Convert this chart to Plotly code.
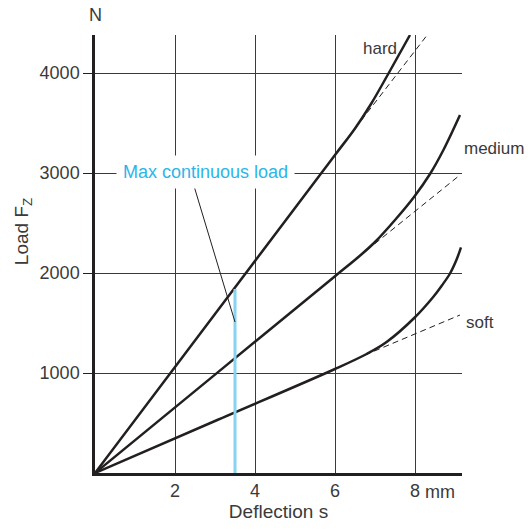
import plotly.graph_objects as go

# ---- data ----
hard_x = [0, 3, 6, 6.5, 6.9, 7.33, 7.875]
hard_y = [0, 1590, 3180, 3445, 3690, 3990, 4380]
hard_lin_x = [6.5, 8.325]
hard_lin_y = [3445, 4390]

medium_x = [0, 3, 6, 6.6, 7.0, 7.5, 7.98, 8.375, 8.71, 9.125]
medium_y = [0, 984, 1968, 2165, 2310, 2530, 2763, 2990, 3230, 3580]
medium_lin_x = [6.8, 9.125]
medium_lin_y = [2230, 2980]

soft_x = [0, 3, 6, 6.79, 7.29, 7.98, 8.46, 8.67, 8.875, 9.04, 9.15]
soft_y = [0, 520, 1040, 1190, 1310, 1550, 1763, 1874, 1995, 2135, 2257]
soft_lin_x = [6.75, 9.125]
soft_lin_y = [1180, 1580]

max_load_x = [3.5, 3.5]
max_load_y = [0, 1840]
leader_x = [2.475, 3.5]
leader_y = [2870, 1510]

x_ticks = [2, 4, 6, 8]
x_ticktext = ["2", "4", "6", "8"]
y_ticks = [1000, 2000, 3000, 4000]

curve_labels = ["hard", "medium", "soft"]

INK = "#231f20"
CYAN_LINE = "#86d3f2"
CYAN_TEXT = "#2bb6e9"
TXT = "#3a3a3a"
FONT = "Liberation Sans, Arial, sans-serif"

fig = go.Figure()

solid = dict(color=INK, width=2.5, shape="spline", smoothing=1.0)
dashed = dict(color=INK, width=1, dash="6px,4px")

for xs, ys in [(hard_x, hard_y), (medium_x, medium_y), (soft_x, soft_y)]:
    fig.add_trace(go.Scatter(x=xs, y=ys, mode="lines", line=solid,
                             hoverinfo="skip", showlegend=False, cliponaxis=False))
for xs, ys in [(hard_lin_x, hard_lin_y), (medium_lin_x, medium_lin_y), (soft_lin_x, soft_lin_y)]:
    fig.add_trace(go.Scatter(x=xs, y=ys, mode="lines", line=dashed,
                             hoverinfo="skip", showlegend=False, cliponaxis=False))

fig.add_trace(go.Scatter(x=max_load_x, y=max_load_y, mode="lines",
                         line=dict(color=CYAN_LINE, width=3),
                         hoverinfo="skip", showlegend=False))
fig.add_trace(go.Scatter(x=leader_x, y=leader_y, mode="lines",
                         line=dict(color=INK, width=1),
                         hoverinfo="skip", showlegend=False))

annotations = [
    dict(x=2.75, y=3010, text="Max continuous load", showarrow=False,
         font=dict(size=18, color=CYAN_TEXT), bgcolor="white", borderpad=6,
         xanchor="center", yanchor="middle"),
    dict(x=7.6, y=4250, text=curve_labels[0], showarrow=False,
         xanchor="right", yanchor="middle", font=dict(size=17, color=TXT)),
    dict(x=1.0, y=3250, xref="paper", text=curve_labels[1], showarrow=False,
         xanchor="left", yanchor="middle", font=dict(size=17, color=TXT)),
    dict(x=1.006, y=1510, xref="paper", text=curve_labels[2], showarrow=False,
         xanchor="left", yanchor="middle", font=dict(size=17, color=TXT)),
    dict(x=8.2, y=0, text="mm", showarrow=False, xanchor="left",
         yanchor="middle", yshift=-19, font=dict(size=18, color=TXT)),
    dict(x=0, y=1.046, xref="paper", yref="paper", text="N", showarrow=False,
         xanchor="center", yanchor="middle", font=dict(size=18, color=TXT)),
    dict(x=-0.196, y=0.55, xref="paper", yref="paper", text="Load F<sub>Z</sub>",
         showarrow=False, textangle=-90, xanchor="center", yanchor="middle",
         font=dict(size=19, color=TXT)),
]

fig.update_layout(
    width=532, height=530,
    margin=dict(l=95, r=70, t=35, b=57, autoexpand=False),
    paper_bgcolor="white", plot_bgcolor="white",
    font=dict(family=FONT, size=18, color=TXT),
    annotations=annotations,
    xaxis=dict(range=[0, 9.175], tickvals=x_ticks, ticktext=x_ticktext,
               showgrid=True, gridcolor="#3a3a3a", gridwidth=1,
               showline=True, linecolor=INK, linewidth=2.5,
               ticks="", ticklabelstandoff=0, zeroline=False, automargin=False,
               title=dict(text="Deflection s", font=dict(size=19), standoff=2),
               fixedrange=True),
    yaxis=dict(range=[0, 4380], tickvals=y_ticks,
               showgrid=True, gridcolor="#3a3a3a", gridwidth=1,
               showline=True, linecolor=INK, linewidth=2.5,
               ticks="outside", ticklen=9, tickcolor=INK, tickwidth=1,
               zeroline=False, automargin=False, fixedrange=True),
)

fig.write_html("out.html", config={"displayModeBar": False},
               post_script="document.body.style.margin='0';document.body.style.overflow='hidden';")
